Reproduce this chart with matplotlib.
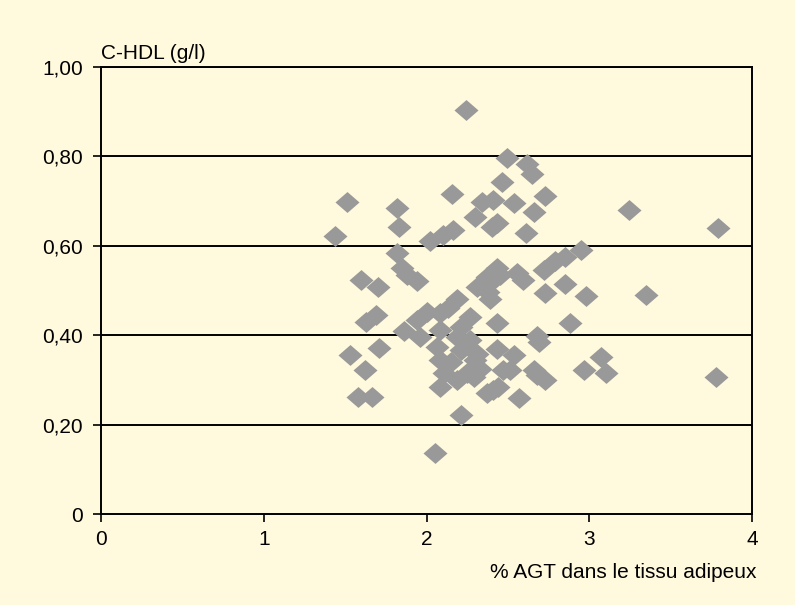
import matplotlib
matplotlib.use("Agg")
import matplotlib.pyplot as plt

# % AGT dans le tissu adipeux
agt = [
    2.245, 1.51, 1.44, 1.82, 1.83, 1.82, 1.85, 1.88, 1.94,
    2.157, 2.02, 2.10, 2.16,
    2.495, 2.62, 2.65, 2.464, 2.34, 2.41, 2.30, 2.43, 2.40,
    2.536, 2.73, 2.66, 2.61,
    3.243, 3.79, 2.946, 2.85, 2.79, 2.72, 2.557, 2.43, 2.45, 2.37, 2.41,
    2.595, 2.85, 2.73, 2.977, 3.35, 2.39, 2.31, 2.38,
    1.60, 1.70, 1.63, 1.69, 1.53, 1.71, 1.62, 1.58, 1.665,
    1.86, 1.94, 2.00, 2.085, 2.13, 2.19, 2.27, 2.085, 2.21, 2.27, 2.065,
    2.085, 2.21, 2.30, 2.105, 2.085, 2.19, 2.19, 2.31, 2.25, 2.29, 2.21,
    2.05, 1.96, 2.15,
    2.43, 2.68, 2.69, 2.88, 2.43, 2.536, 2.33, 2.47, 2.515, 2.66, 2.68,
    2.73, 2.41, 2.44, 2.37, 2.566, 2.966, 3.07, 3.10, 3.776,
]
# C-HDL (g/l)
hdl = [
    0.902, 0.698, 0.622, 0.683, 0.642, 0.583, 0.550, 0.535, 0.520,
    0.716, 0.610, 0.624, 0.635,
    0.795, 0.783, 0.760, 0.743, 0.698, 0.702, 0.665, 0.650, 0.642,
    0.695, 0.711, 0.675, 0.628,
    0.680, 0.639, 0.590, 0.575, 0.565, 0.545, 0.539, 0.550, 0.535, 0.530, 0.523,
    0.523, 0.515, 0.495, 0.487, 0.490, 0.480, 0.508, 0.497,
    0.523, 0.508, 0.430, 0.445, 0.355, 0.372, 0.322, 0.262, 0.262,
    0.410, 0.434, 0.452, 0.449, 0.460, 0.480, 0.441, 0.411, 0.419, 0.389, 0.374,
    0.344, 0.367, 0.344, 0.315, 0.285, 0.300, 0.396, 0.359, 0.315, 0.307, 0.221,
    0.136, 0.397, 0.340,
    0.428, 0.398, 0.385, 0.428, 0.370, 0.355, 0.325, 0.322, 0.322, 0.322, 0.310,
    0.300, 0.277, 0.285, 0.270, 0.259, 0.322, 0.352, 0.315, 0.307,
]

x_ticks = [0, 1, 2, 3, 4]
y_ticks = [0, 0.2, 0.4, 0.6, 0.8, 1.0]
y_tick_labels = ["0", "0,20", "0,40", "0,60", "0,80", "1,00"]

bg = "#FFFADE"
plt.rcParams['font.family'] = ['Liberation Sans', 'DejaVu Sans']

fig = plt.figure(figsize=(7.95, 6.05), dpi=100, facecolor=bg)
ax = fig.add_axes([0.127, 0.150, 0.819, 0.740])
ax.set_facecolor(bg)

diamond = [(-1.15, 0), (0, 1), (1.15, 0), (0, -1), (-1.15, 0)]
ax.scatter(agt, hdl, marker=diamond, s=300, color="#999999", linewidths=0, zorder=3)

ax.set_xlim(0, 4)
ax.set_ylim(0, 1.0)
ax.set_xticks(x_ticks)
ax.set_xticklabels([str(t) for t in x_ticks])
ax.set_yticks(y_ticks)
ax.set_yticklabels(y_tick_labels)

for yv in y_ticks[1:]:
    ax.axhline(yv, color="black", lw=1.4, zorder=1)

for sp in ax.spines.values():
    sp.set_color("black")
    sp.set_linewidth(1.4)

ax.tick_params(axis="both", direction="out", length=6, width=1.2,
               labelsize=15, colors="black", pad=5)
ax.tick_params(axis="y", pad=7)

fig.text(0.127, 0.912, "C-HDL (g/l)", fontsize=15, ha="left", va="center")
fig.text(0.952, 0.054, "% AGT dans le tissu adipeux", fontsize=15,
         ha="right", va="center")

fig.savefig("out.png", dpi=100, facecolor=bg)
